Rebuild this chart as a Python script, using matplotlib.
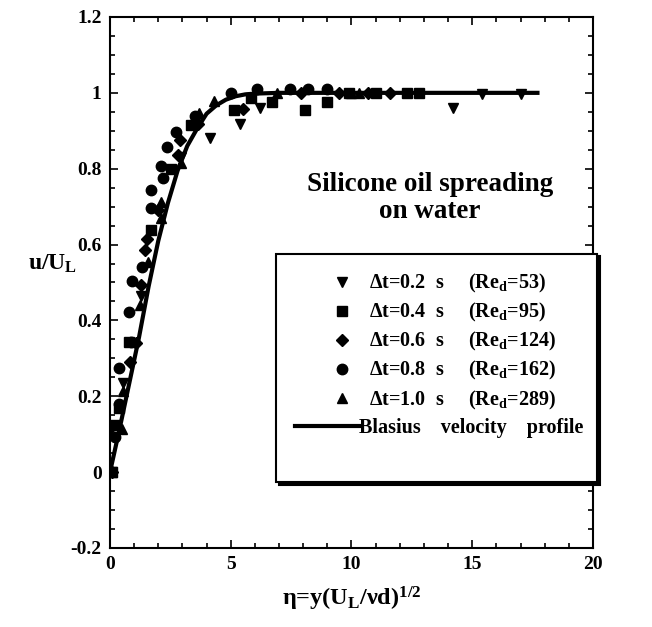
import numpy as np
import matplotlib
matplotlib.use("Agg")
import matplotlib.pyplot as plt
from matplotlib.legend_handler import HandlerLine2D
from matplotlib.ticker import MultipleLocator, FuncFormatter

plt.rcParams["font.family"] = ["Liberation Serif", "DejaVu Serif"]
plt.rcParams["font.weight"] = "bold"
plt.rcParams["mathtext.fontset"] = "custom"
plt.rcParams["mathtext.rm"] = "Liberation Serif:bold"
plt.rcParams["mathtext.it"] = "Liberation Serif:bold"
plt.rcParams["mathtext.bf"] = "Liberation Serif:bold"

# measured profiles, eta = y (U_L / nu d)^(1/2)
eta_02 = [0.1, 0.54, 1.3, 2.95, 4.13, 5.37, 6.2, 14.2, 15.4, 17.0]
u_02 = [0.0, 0.235, 0.465, 0.832, 0.88, 0.917, 0.961, 0.96, 0.997, 0.997]

eta_04 = [0.1, 0.19, 0.36, 0.77, 1.68, 2.54, 3.37, 5.13, 5.85, 6.7, 8.07, 9.0,
          9.9, 11.0, 12.3, 12.8]
u_04 = [0.0, 0.124, 0.17, 0.344, 0.638, 0.80, 0.916, 0.955, 0.986, 0.975, 0.955,
        0.975, 1.0, 1.0, 1.0, 1.0]

eta_06 = [0.1, 0.05, 0.81, 1.09, 1.3, 1.46, 1.55, 1.99, 2.82, 2.88, 3.64, 5.5,
          7.9, 9.5, 10.7, 11.6]
u_06 = [0.0, 0.12, 0.29, 0.34, 0.493, 0.586, 0.615, 0.69, 0.836, 0.876, 0.917,
        0.958, 1.0, 1.0, 1.0, 1.0]

eta_08 = [0.19, 0.36, 0.36, 0.77, 0.88, 0.91, 1.33, 1.71, 1.71, 2.13, 2.19, 2.37,
          2.75, 3.53, 5.0, 6.1, 7.45, 8.2, 9.0]
u_08 = [0.093, 0.18, 0.275, 0.423, 0.344, 0.504, 0.54, 0.697, 0.744, 0.806, 0.776,
        0.858, 0.898, 0.94, 0.999, 1.01, 1.01, 1.01, 1.01]

eta_10 = [0.1, 0.5, 0.54, 1.23, 1.57, 2.1, 2.13, 2.95, 3.67, 4.31, 6.9, 10.0, 10.3]
u_10 = [0.0, 0.115, 0.215, 0.44, 0.555, 0.669, 0.713, 0.815, 0.946, 0.979, 1.0,
        1.0, 1.0]

# Blasius velocity profile
eta_bl = [0.0, 0.4, 0.8, 1.2, 1.6, 2.0, 2.4, 2.8, 3.2, 3.6, 4.0, 4.4, 4.8, 5.2,
          5.6, 6.0, 7.0, 8.0, 10.0, 12.0, 14.0, 16.0, 17.7]
u_bl = [0.0, 0.115, 0.235, 0.355, 0.49, 0.61, 0.71, 0.795, 0.86, 0.905, 0.945,
        0.967, 0.982, 0.991, 0.996, 0.998, 1.0, 1.0, 1.0, 1.0, 1.0, 1.0, 1.0]

labels = [
    "  Δt=0.2  s     (Re$_\\mathrm{d}$=53)",
    "  Δt=0.4  s     (Re$_\\mathrm{d}$=95)",
    "  Δt=0.6  s     (Re$_\\mathrm{d}$=124)",
    "  Δt=0.8  s     (Re$_\\mathrm{d}$=162)",
    "  Δt=1.0  s     (Re$_\\mathrm{d}$=289)",
]
blasius_label = "Blasius    velocity    profile"


class RightMarkerHandler(HandlerLine2D):
    # single legend marker placed near the right end of the handle
    def get_numpoints(self, legend):
        return 2

    def get_xdata(self, legend, xdescent, ydescent, width, height, fontsize):
        x = np.array([-xdescent + 0.73 * width])
        return x, x


fig = plt.figure(figsize=(6.52, 6.27), dpi=100)
ax = fig.add_axes([0.1687, 0.126, 0.7408, 0.8469])

ms = 7.5
markers = []
for eta, u, mk, size, lab in [(eta_02, u_02, "v", ms, labels[0]),
                              (eta_04, u_04, "s", ms - 0.8, labels[1]),
                              (eta_06, u_06, "D", ms - 1.3, labels[2]),
                              (eta_08, u_08, "o", ms, labels[3]),
                              (eta_10, u_10, "^", ms, labels[4])]:
    ln, = ax.plot(eta, u, mk, color="k", ms=size, label=lab)
    markers.append(ln)
ax.plot(eta_bl, u_bl, "-", color="k", lw=3, label=blasius_label)
# empty last row keeps the blank strip at the bottom of the legend box
ax.plot([], [], " ", label=" ")

ax.set_xlim(0, 20)
ax.set_ylim(-0.2, 1.2)
ax.xaxis.set_major_locator(MultipleLocator(5))
ax.xaxis.set_minor_locator(MultipleLocator(1))
ax.yaxis.set_major_locator(MultipleLocator(0.2))
ax.yaxis.set_minor_locator(MultipleLocator(0.05))
ax.yaxis.set_major_formatter(FuncFormatter(lambda v, p: f"{v:g}"))
ax.tick_params(which="both", direction="in", top=True, right=True,
               labelsize=14, width=1.2)
ax.tick_params(which="major", length=6, pad=6)
ax.tick_params(which="minor", length=3.5)
for s in ax.spines.values():
    s.set_linewidth(1.5)

ax.set_xlabel("η=y(U$_\\mathrm{L}$/νd)$^\\mathrm{1/2}$", fontsize=17.5,
              fontweight="bold")
ax.set_ylabel("u/U$_\\mathrm{L}$", fontsize=17, fontweight="bold", rotation=0)
ax.xaxis.set_label_coords(0.5, -0.07)
ax.yaxis.set_label_coords(-0.118, 0.515)

ax.text(0.663, 0.659, "Silicone oil spreading\non water", transform=ax.transAxes,
        ha="center", va="center", fontsize=19.5, linespacing=1.1)

leg = ax.legend(loc="lower left", bbox_to_anchor=(0.344, 0.124, 0.664, 0.428),
                mode="expand", fontsize=14.5, frameon=True, fancybox=False,
                shadow={"color": "k", "alpha": 1}, handlelength=3.2,
                handletextpad=0.0, labelspacing=0.3, borderpad=0.92,
                borderaxespad=0,
                handler_map={m: RightMarkerHandler() for m in markers})
leg.get_frame().set_edgecolor("k")
leg.get_frame().set_linewidth(1.5)

fig.savefig("out.png", dpi=100)
